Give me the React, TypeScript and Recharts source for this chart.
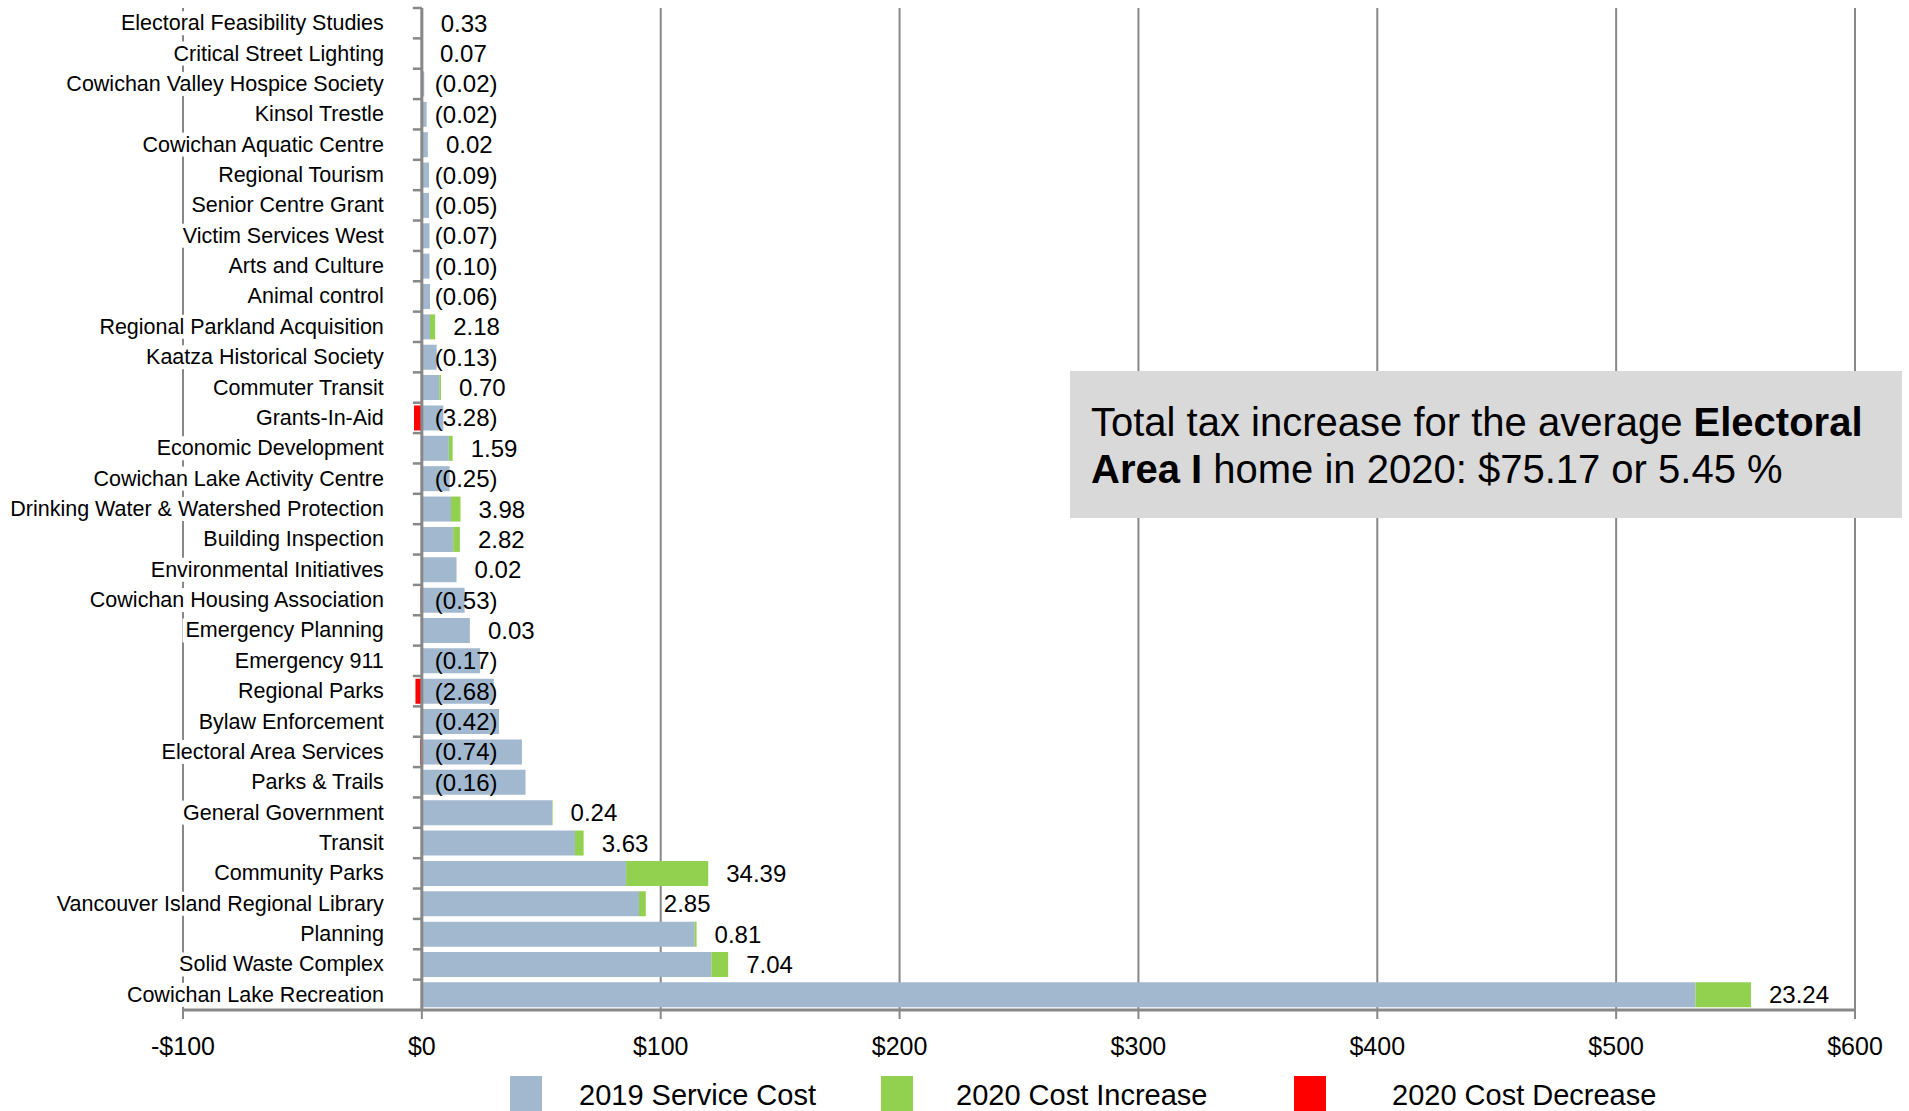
import React from "react";
import {
  BarChart, Bar, XAxis, YAxis, CartesianGrid, ReferenceLine, LabelList, Legend,
} from "recharts";

// rows, top to bottom
const categories = [
  "Electoral Feasibility Studies", "Critical Street Lighting", "Cowichan Valley Hospice Society",
  "Kinsol Trestle", "Cowichan Aquatic Centre", "Regional Tourism", "Senior Centre Grant",
  "Victim Services West", "Arts and Culture", "Animal control", "Regional Parkland Acquisition",
  "Kaatza Historical Society", "Commuter Transit", "Grants-In-Aid", "Economic Development",
  "Cowichan Lake Activity Centre", "Drinking Water & Watershed Protection", "Building Inspection",
  "Environmental Initiatives", "Cowichan Housing Association", "Emergency Planning", "Emergency 911",
  "Regional Parks", "Bylaw Enforcement", "Electoral Area Services", "Parks & Trails",
  "General Government", "Transit", "Community Parks", "Vancouver Island Regional Library",
  "Planning", "Solid Waste Complex", "Cowichan Lake Recreation",
];
const cost2019 = [
  0, 0, 1.0, 2.0, 2.5, 3.0, 3.0, 3.2, 3.2, 3.4, 3.4,
  6.2, 7.3, 9.0, 11.3, 11.6, 12.2, 13.1, 14.5, 17.9, 20.1, 24.4,
  30.1, 32.3, 41.9, 43.4, 54.5, 64.1, 85.5, 90.9, 114.2, 121.2, 533.2,
];
const increase2020 = [
  0.33, 0.07, 0, 0, 0.02, 0, 0, 0, 0, 0, 2.18,
  0, 0.70, 0, 1.59, 0, 3.98, 2.82, 0.02, 0, 0.03, 0,
  0, 0, 0, 0, 0.24, 3.63, 34.39, 2.85, 0.81, 7.04, 23.24,
];
const decrease2020 = [
  0, 0, 0.02, 0.02, 0, 0.09, 0.05, 0.07, 0.10, 0.06, 0,
  0.13, 0, 3.28, 0, 0.25, 0, 0, 0, 0.53, 0, 0.17,
  2.68, 0.42, 0.74, 0.16, 0, 0, 0, 0, 0, 0, 0,
];
const xTicks = [-100, 0, 100, 200, 300, 400, 500, 600];
const seriesNames = ["2019 Service Cost", "2020 Cost Increase", "2020 Cost Decrease"];
const seriesColors = ["#a2b8cf", "#92d050", "#ff0000"];

const rows = categories.map((name, i) => ({
  name,
  base: cost2019[i],
  inc: increase2020[i],
  dec: -decrease2020[i],
}));

const W = 1909;
const H = 1111;
const M = { top: 8, right: 54, left: 0, bottom: 51 };
const Y_AXIS_W = 183;
const X_AXIS_H = 50;
const PLOT_L = M.left + Y_AXIS_W;
const PLOT_R = W - M.right;
const PLOT_T = M.top;
const PLOT_B = H - M.bottom - X_AXIS_H;
const X_MIN = xTicks[0];
const X_MAX = xTicks[xTicks.length - 1];
const ZERO_X = PLOT_L + ((0 - X_MIN) / (X_MAX - X_MIN)) * (PLOT_R - PLOT_L);
const BAND = (PLOT_B - PLOT_T) / categories.length;
const FONT = "'Liberation Sans', Arial, sans-serif";
const AXIS_GREY = "#888888";

let ctx: CanvasRenderingContext2D | null = null;
function textWidth(s: string, font: string) {
  if (!ctx) ctx = document.createElement("canvas").getContext("2d");
  if (!ctx) return s.length * 10;
  ctx.font = font;
  return ctx.measureText(s).width;
}

function CategoryTick(props: any) {
  const { y, payload } = props;
  const right = ZERO_X - 38;
  const w = textWidth(String(payload.value), `21.5px ${FONT}`);
  return (
    <g>
      <rect x={right - w - 3} y={y - 12} width={w + 6} height={24} fill="#fff" />
      <text x={right} y={y} textAnchor="end" dominantBaseline="central"
        fontSize={21.5} fontFamily={FONT} fill="#000">{payload.value}</text>
      <line x1={ZERO_X - 9} x2={ZERO_X} y1={y - BAND / 2} y2={y - BAND / 2}
        stroke={AXIS_GREY} strokeWidth={2.5} />
    </g>
  );
}

function IncLabel(props: any) {
  const { x, y, width, height, value } = props;
  if (!value) return null;
  return (
    <text x={Math.max(x, x + width) + 18} y={y + height / 2} dominantBaseline="central"
      fontSize={24} fontFamily={FONT} fill="#000">{Number(value).toFixed(2)}</text>
  );
}

function DecLabel(props: any) {
  const { x, y, width, height, value } = props;
  if (!value) return null;
  return (
    <text x={Math.max(x, x + width) + 13} y={y + height / 2} dominantBaseline="central"
      fontSize={24} fontFamily={FONT} fill="#000">({Math.abs(Number(value)).toFixed(2)})</text>
  );
}

function LegendContent() {
  const spots = [{ sq: 510, tx: 579 }, { sq: 881, tx: 956 }, { sq: 1294, tx: 1392 }];
  return (
    <div style={{ position: "relative", width: W, height: 35 }}>
      {seriesNames.map((n, i) => (
        <React.Fragment key={n}>
          <div style={{ position: "absolute", left: spots[i].sq, top: 0, width: 32, height: 35, background: seriesColors[i] }} />
          <div style={{ position: "absolute", left: spots[i].tx, top: 5, lineHeight: "29px", fontSize: 29, fontFamily: FONT, color: "#000", whiteSpace: "nowrap" }}>{n}</div>
        </React.Fragment>
      ))}
    </div>
  );
}

export default function App() {
  return (
    <div style={{ position: "absolute", left: 0, top: 0, width: W, height: H, overflow: "hidden", background: "#fff" }}>
      <BarChart width={W} height={H} data={rows} layout="vertical" margin={M}
        stackOffset="sign" barCategoryGap="9%">
        <CartesianGrid horizontal={false} stroke={AXIS_GREY} strokeWidth={2} />
        <XAxis type="number" domain={[X_MIN, X_MAX]} ticks={xTicks} interval={0} height={X_AXIS_H}
          tickFormatter={(v: number) => (v < 0 ? `-$${-v}` : `$${v}`)}
          tick={{ fontSize: 25, fill: "#000", fontFamily: FONT }}
          tickSize={9} tickMargin={18}
          axisLine={{ stroke: AXIS_GREY, strokeWidth: 3 }}
          tickLine={{ stroke: AXIS_GREY, strokeWidth: 2 }} />
        <YAxis type="category" dataKey="name" width={Y_AXIS_W} interval={0}
          axisLine={false} tickLine={false} tick={<CategoryTick />} />
        <Bar dataKey="base" name={seriesNames[0]} stackId="s" fill={seriesColors[0]} isAnimationActive={false} />
        <Bar dataKey="inc" name={seriesNames[1]} stackId="s" fill={seriesColors[1]} isAnimationActive={false}>
          <LabelList dataKey="inc" content={<IncLabel />} />
        </Bar>
        <Bar dataKey="dec" name={seriesNames[2]} stackId="s" fill={seriesColors[2]} isAnimationActive={false}>
          <LabelList dataKey="dec" content={<DecLabel />} />
        </Bar>
        <ReferenceLine x={0} stroke={AXIS_GREY} strokeWidth={3} />
        <Legend layout="horizontal" verticalAlign="middle" align="center" content={<LegendContent />}
          wrapperStyle={{ left: 0, top: 1076, width: W, height: 35 }} />
      </BarChart>
      <div style={{
        position: "absolute", left: 1070, top: 371, width: 832, height: 147, background: "#d9d9d9",
        boxSizing: "border-box", padding: "28px 0 0 21px", fontFamily: FONT, fontSize: 40,
        lineHeight: "47px", color: "#000",
      }}>
        Total tax increase for the average <b>Electoral</b><br />
        <b>Area I</b> home in 2020: $75.17 or 5.45 %
      </div>
    </div>
  );
}
